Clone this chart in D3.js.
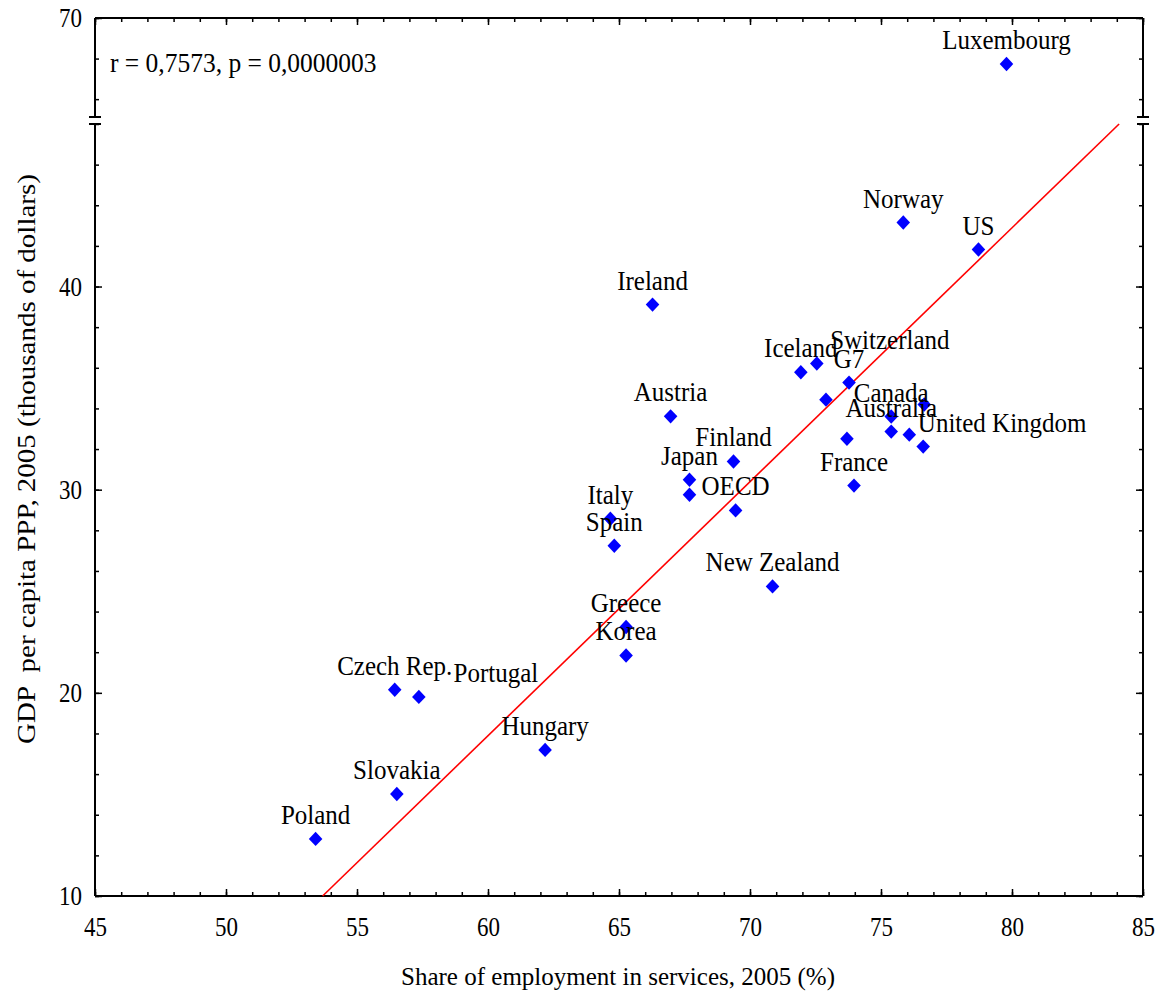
<!DOCTYPE html>
<html>
<head>
<meta charset="utf-8">
<script src="https://cdn.jsdelivr.net/npm/d3@7"></script>
<style>
  body { margin: 0; background: #fff; }
  text { font-family: "Liberation Serif", "Times New Roman", serif; fill: #000; }
</style>
</head>
<body>
<svg id="chart" width="1166" height="993"></svg>
<script>
// data
const countries = ['Luxembourg', 'Norway', 'US', 'Ireland', 'Iceland', 'Switzerland', 'G7', '',
  'Canada', 'Australia', '', 'United Kingdom', '', '', 'France', 'Austria', 'Finland', 'Japan', '',
  'OECD', 'Italy', 'Spain', 'New Zealand', 'Greece', 'Korea', 'Czech Rep.', 'Portugal', 'Hungary',
  'Slovakia', 'Poland'];
const services = [79.79, 75.85, 78.72, 66.28, 71.94, 72.55, 73.78, 72.90,
  75.39, 75.39, 76.08, 76.61, 76.65, 73.70, 73.97, 66.97, 69.37, 67.69, 67.69,
  69.45, 64.67, 64.82, 70.86, 65.27, 65.27, 56.44, 57.36, 62.18,
  56.52, 53.42];
const gdp = [67.73, 43.15, 41.82, 39.11, 35.78, 36.21, 35.27, 34.43,
  33.60, 32.86, 32.71, 32.12, 34.19, 32.51, 30.20, 33.61, 31.39, 30.49, 29.75,
  28.98, 28.57, 27.24, 25.24, 23.24, 21.84, 20.15, 19.80, 17.19,
  15.02, 12.81];

const xTicks = [45, 50, 55, 60, 65, 70, 75, 80, 85];
const yTicksLow = [10, 20, 30, 40];
const yTicksHigh = [70];
const fitSlope = 1.25;
const fitIntercept = -57.11;
const statsText = 'r = 0,7573, p = 0,0000003';
const xTitle = 'Share of employment in services, 2005 (%)';
const yTitle = 'GDP  per capita PPP, 2005 (thousands of dollars)';

// labels that were moved off their default spot
const labelShift = { 'United Kingdom': 79, 'Switzerland': 73, 'Portugal': 77 };

const svg = d3.select('#chart');
const mLeft = 95, mRight = 1143, mTop = 18, mBottom = 896;
const breakLow = 124, breakHigh = 117;

const x = d3.scaleLinear().domain([45, 85]).range([mLeft, mRight]);
const yLow = d3.scaleLinear().domain([10, 48]).range([mBottom, breakLow]);
const yHigh = d3.scaleLinear().domain([65.12, 70]).range([breakHigh, mTop]);
const yPos = v => v > 48 ? yHigh(v) : yLow(v);

const minorX = d3.range(45, 86, 1);
const minorLow = d3.range(10, 49, 2);
const minorHigh = [66, 68, 70];

function styleAxis(g) {
  g.select('.domain').remove();
  g.selectAll('line').attr('stroke', '#000').attr('stroke-width', 1.5);
  g.selectAll('text').attr('font-size', 23)
    .attr('font-family', '"Liberation Serif", serif')
    .attr('transform', 'scale(1,1.18)')
    .attr('y', function () { return +this.getAttribute('y') / 1.18; });
}

// bottom and top
svg.append('g').attr('transform', `translate(0,${mBottom})`)
  .call(d3.axisBottom(x).tickValues(minorX).tickSize(-4).tickFormat(''))
  .call(styleAxis);
svg.append('g').attr('transform', `translate(0,${mBottom})`)
  .call(d3.axisBottom(x).tickValues(xTicks).tickSize(-7).tickPadding(21).tickFormat(d3.format('d')))
  .call(styleAxis);
svg.append('g').attr('transform', `translate(0,${mTop})`)
  .call(d3.axisTop(x).tickValues(minorX).tickSize(-4).tickFormat(''))
  .call(styleAxis);
svg.append('g').attr('transform', `translate(0,${mTop})`)
  .call(d3.axisTop(x).tickValues(xTicks).tickSize(-7).tickFormat(''))
  .call(styleAxis);

// left and right, both pieces
[[yLow, minorLow, yTicksLow], [yHigh, minorHigh, yTicksHigh]].forEach(([s, minor, major]) => {
  svg.append('g').attr('transform', `translate(${mLeft},0)`)
    .call(d3.axisLeft(s).tickValues(minor).tickSize(-4).tickFormat(''))
    .call(styleAxis);
  svg.append('g').attr('transform', `translate(${mLeft},0)`)
    .call(d3.axisLeft(s).tickValues(major).tickSize(-7).tickPadding(13).tickFormat(d3.format('d')))
    .call(styleAxis);
  svg.append('g').attr('transform', `translate(${mRight},0)`)
    .call(d3.axisRight(s).tickValues(minor).tickSize(-4).tickFormat(''))
    .call(styleAxis);
  svg.append('g').attr('transform', `translate(${mRight},0)`)
    .call(d3.axisRight(s).tickValues(major).tickSize(-7).tickFormat(''))
    .call(styleAxis);
});

// frame with the break
const frame = svg.append('g').attr('stroke', '#000').attr('stroke-width', 2);
frame.append('line').attr('x1', mLeft).attr('x2', mRight).attr('y1', mTop).attr('y2', mTop);
frame.append('line').attr('x1', mLeft).attr('x2', mRight).attr('y1', mBottom).attr('y2', mBottom);
[mLeft, mRight].forEach(ax => {
  frame.append('line').attr('x1', ax).attr('x2', ax).attr('y1', mTop).attr('y2', breakHigh);
  frame.append('line').attr('x1', ax).attr('x2', ax).attr('y1', breakLow).attr('y2', mBottom);
  [breakHigh, breakLow].forEach(by => {
    frame.append('line').attr('x1', ax - 6).attr('x2', ax + 6).attr('y1', by).attr('y2', by);
  });
});

// regression line, lower panel only
const fx0 = (10 - fitIntercept) / fitSlope;
const fx1 = (48 - fitIntercept) / fitSlope;
svg.append('line')
  .attr('x1', x(fx0)).attr('y1', yLow(fitIntercept + fitSlope * fx0))
  .attr('x2', x(fx1)).attr('y2', yLow(fitIntercept + fitSlope * fx1))
  .attr('stroke', '#ff0000').attr('stroke-width', 1.6);

// points
const pts = countries.map((c, i) => ({ name: c, sx: services[i], gy: gdp[i] }));
svg.append('g').selectAll('path').data(pts).join('path')
  .attr('d', d3.symbol(d3.symbolSquare, 92))
  .attr('transform', d => `translate(${x(d.sx)},${yPos(d.gy)}) scale(1,1.06) rotate(45)`)
  .attr('fill', '#0000ff');

svg.append('g').selectAll('text').data(pts.filter(d => d.name)).join('text')
  .attr('transform', d => `translate(${x(d.sx) + (labelShift[d.name] || 0)},${yPos(d.gy) - 15}) scale(1,1.06)`)
  .attr('text-anchor', 'middle')
  .attr('font-size', 25)
  .text(d => d.name);

svg.append('text').attr('transform', 'translate(110,72) scale(1,1.05)')
  .attr('font-size', 25.5).text(statsText);

svg.append('text').attr('transform', `translate(${(mLeft + mRight) / 2 - 1},985)`)
  .attr('text-anchor', 'middle').attr('font-size', 25).text(xTitle);

svg.append('text').attr('transform', 'translate(35,459) rotate(-90) scale(1.16,1)')
  .attr('text-anchor', 'middle').attr('font-size', 25).attr('xml:space', 'preserve')
  .style('white-space', 'pre').text(yTitle);
</script>
</body>
</html>
